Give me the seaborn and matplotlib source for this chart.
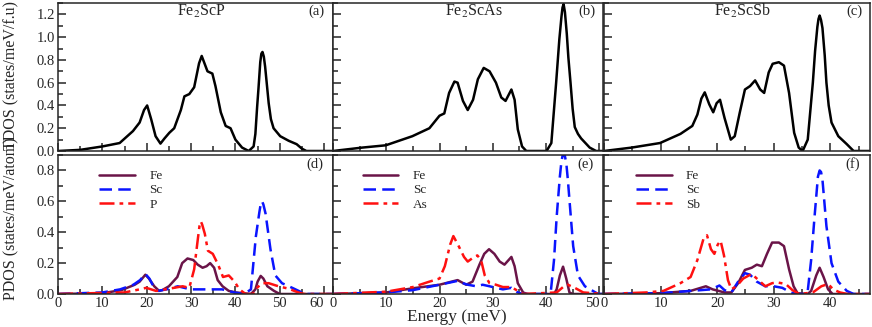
import numpy as np
import pandas as pd
import matplotlib
matplotlib.use("Agg")
import matplotlib.pyplot as plt
import seaborn as sns
from matplotlib.ticker import MultipleLocator

# ---- TDOS (top row) ----
e_tdos_p = [0, 5, 10, 13.9, 16.9, 18.4, 19.4, 20.1, 21.0, 22.0, 23.1, 24.0, 25.1, 26.2, 27.7, 28.5,
            29.6, 30.7, 31.8, 32.4, 33.7, 34.8, 35.5, 36.7, 37.8, 38.9, 40, 41.5, 43, 44.1, 44.5,
            44.9, 45.2, 45.6, 45.85, 46.1, 46.4, 46.7, 47.1, 47.5, 48.0, 48.6, 50.1, 52, 53.8, 55, 56, 62]
tdos_p = [0, 0.01, 0.04, 0.07, 0.175, 0.25, 0.36, 0.40, 0.28, 0.13, 0.065, 0.11, 0.16, 0.20, 0.36, 0.48,
          0.50, 0.56, 0.77, 0.835, 0.70, 0.68, 0.57, 0.34, 0.22, 0.20, 0.10, 0.03, 0.0, 0.04, 0.15,
          0.39, 0.55, 0.78, 0.855, 0.87, 0.83, 0.74, 0.58, 0.42, 0.28, 0.20, 0.13, 0.09, 0.06, 0.02, 0.0, 0.0]

e_tdos_as = [0, 5.5, 9.9, 14.9, 18.1, 20.0, 20.9, 21.8, 22.8, 23.4, 24.4, 25.3, 26.3, 27.2, 28.3,
             29.4, 30.6, 31.6, 32.4, 33.5, 34.1, 34.7, 35.5, 36.3, 40.1, 41.0, 41.9, 42.5, 42.9, 43.1,
             43.3, 43.55, 43.9, 44.2, 44.6, 45.0, 45.4, 46.0, 46.6, 48.2, 49.4, 51]
tdos_as = [0, 0.03, 0.05, 0.13, 0.20, 0.31, 0.33, 0.51, 0.61, 0.60, 0.44, 0.36, 0.45, 0.63, 0.73,
           0.70, 0.60, 0.47, 0.44, 0.54, 0.45, 0.19, 0.04, 0, 0, 0.07, 0.60, 0.98, 1.18, 1.26,
           1.29, 1.22, 1.03, 0.82, 0.60, 0.37, 0.21, 0.15, 0.11, 0.03, 0, 0]

e_tdos_sb = [0, 4.9, 9.9, 13.5, 15.6, 16.5, 17.2, 17.8, 18.6, 19.3, 19.9, 20.5, 21.3, 22.4, 23.1,
             24.0, 24.9, 25.8, 26.7, 27.6, 28.3, 29.1, 29.8, 30.9, 31.8, 32.7, 33.6, 34.4, 35.1,
             36.0, 36.9, 37.3, 37.7, 37.9, 38.1, 38.35, 38.6, 39.0, 39.3, 39.7, 40.2, 41.4, 42.9, 44.1, 47]
tdos_sb = [0, 0.03, 0.07, 0.15, 0.22, 0.32, 0.46, 0.515, 0.41, 0.34, 0.42, 0.45, 0.29, 0.10, 0.13,
           0.34, 0.54, 0.57, 0.62, 0.54, 0.51, 0.69, 0.766, 0.78, 0.75, 0.51, 0.16, 0.03, 0,
           0.10, 0.60, 0.88, 1.09, 1.16, 1.19, 1.15, 1.08, 0.84, 0.60, 0.40, 0.25, 0.13, 0.06, 0, 0]

# ---- PDOS Fe2ScP ----
e_fe_p = [0, 10, 14.3, 17.3, 18.4, 19.7, 20.5, 21.7, 22.8, 23.5, 25.0, 26.9, 28.0, 29.2, 30.5, 31.5,
          32.6, 33.5, 34.3, 35.2, 36.0, 37.1, 38.5, 40.1, 43.5, 44.5, 45.0, 45.7, 46.3, 47.2, 48.7, 50, 62]
fe_p = [0, 0.005, 0.025, 0.06, 0.08, 0.125, 0.10, 0.05, 0.02, 0.025, 0.05, 0.11, 0.20, 0.23, 0.22, 0.19,
        0.17, 0.18, 0.20, 0.17, 0.09, 0.05, 0.02, 0.01, 0.0, 0.03, 0.08, 0.117, 0.10, 0.05, 0.02, 0.0, 0.0]
e_sc_p = [0, 10, 14, 17, 18.5, 19.7, 20.6, 21.5, 22.5, 24.5, 27, 29.9, 33, 37, 39.7, 42, 43.5, 44.6,
          45.4, 45.75, 46.0, 46.3, 46.8, 47.9, 49.0, 50.5, 52.8, 55, 56, 62]
sc_p = [0, 0.01, 0.03, 0.06, 0.09, 0.13, 0.10, 0.05, 0.02, 0.03, 0.05, 0.03, 0.03, 0.03, 0.01, 0, 0.03, 0.37,
        0.53, 0.59, 0.60, 0.58, 0.52, 0.29, 0.12, 0.07, 0.04, 0.01, 0, 0]
e_p_p = [0, 15, 18.4, 19.9, 22.1, 24.2, 28.1, 29.6, 30.7, 31.5, 31.9, 32.2, 32.5, 33.1, 33.8, 34.9, 36.1,
         37.2, 38.5, 39.8, 40.9, 42.3, 44.0, 44.5, 46.0, 47.5, 49.7, 51.9, 54.2, 55.5, 62]
p_p = [0, 0.01, 0.03, 0.04, 0.02, 0.03, 0.05, 0.04, 0.16, 0.35, 0.44, 0.47, 0.45, 0.39, 0.28, 0.26, 0.19,
       0.11, 0.12, 0.08, 0.03, 0, 0, 0.03, 0.07, 0.07, 0.05, 0.035, 0.01, 0, 0]

# ---- PDOS Fe2ScAs ----
e_fe_as = [0, 10, 15, 20, 23.4, 25.0, 26.2, 27.5, 28.4, 29.3, 30.3, 31.3, 32.2, 33.5, 34.1, 34.7,
           35.7, 36.5, 41.5, 42.0, 42.6, 43.2, 43.8, 44.4, 45, 51]
fe_as = [0, 0.01, 0.037, 0.06, 0.09, 0.06, 0.08, 0.19, 0.26, 0.29, 0.26, 0.21, 0.19, 0.24, 0.18, 0.07,
         0.01, 0, 0, 0.03, 0.12, 0.177, 0.10, 0.01, 0, 0]
e_sc_as = [0, 10, 15, 20, 23.4, 24.4, 25.3, 26.9, 28.1, 29.4, 30.6, 31.9, 33.5, 34.7, 35.7, 40.3,
           40.9, 41.5, 42.0, 42.6, 42.9, 43.2, 43.5, 43.8, 44.1, 44.4, 45.1, 46.0, 47.3, 48.8, 49.8, 51]
sc_as = [0, 0.01, 0.025, 0.06, 0.085, 0.07, 0.06, 0.05, 0.06, 0.05, 0.04, 0.03, 0.04, 0.01, 0, 0,
         0.015, 0.22, 0.50, 0.76, 0.86, 0.91, 0.90, 0.85, 0.74, 0.61, 0.31, 0.12, 0.05, 0.02, 0, 0]
e_as_as = [0, 10, 15, 18.1, 20, 21, 22, 22.6, 23.6, 24.6, 25.3, 26.1, 27.1, 27.8, 28.5, 29.4, 30.6,
           31.9, 33.5, 34.7, 35.7, 42, 43.2, 44.1, 45.4, 47, 51]
as_as = [0, 0.015, 0.045, 0.08, 0.10, 0.18, 0.32, 0.375, 0.31, 0.24, 0.21, 0.23, 0.25, 0.22, 0.12, 0.07, 0.06,
         0.045, 0.045, 0.02, 0, 0.01, 0.045, 0.06, 0.04, 0.01, 0]

# ---- PDOS Fe2ScSb ----
e_fe_sb = [0, 9.9, 15.3, 18.0, 19.2, 21.3, 22.5, 23.7, 24.9, 26.1, 27.0, 27.9, 28.8, 29.7, 30.9, 31.8,
           32.7, 33.5, 34.2, 36.0, 36.6, 37.5, 38.1, 38.8, 39.6, 40.4, 47]
fe_sb = [0, 0.005, 0.02, 0.05, 0.03, 0.01, 0.01, 0.07, 0.156, 0.17, 0.19, 0.18, 0.26, 0.333, 0.333, 0.31,
         0.16, 0.05, 0.005, 0, 0.02, 0.12, 0.17, 0.11, 0.03, 0, 0]
e_sc_sb = [0, 10, 15.3, 18.9, 20.4, 21.3, 22.5, 23.7, 24.9, 25.8, 27.0, 28.5, 30.0, 31.5, 33.0, 34, 35.5,
           36.0, 36.6, 37.2, 37.8, 38.1, 38.35, 38.6, 39.3, 40.2, 41.4, 42.9, 44.1, 47]
sc_sb = [0, 0.005, 0.02, 0.03, 0.055, 0.025, 0.01, 0.08, 0.135, 0.125, 0.08, 0.05, 0.05, 0.04, 0.01, 0, 0,
         0.02, 0.22, 0.50, 0.76, 0.80, 0.79, 0.74, 0.44, 0.20, 0.08, 0.02, 0, 0]
e_sb_sb = [0, 7.5, 10.5, 13.5, 15.3, 16.5, 17.6, 18.2, 18.9, 19.5, 20.1, 20.6, 21.2, 21.9, 22.5, 23.4,
           24.6, 26.1, 27.0, 28.5, 29.7, 30.6, 32.1, 33.3, 34.5, 36.9, 38.4, 39.6, 40.5, 41.7, 43, 47]
sb_sb = [0, 0.01, 0.02, 0.07, 0.11, 0.22, 0.36, 0.38, 0.29, 0.26, 0.32, 0.345, 0.25, 0.09, 0.03, 0.05,
         0.10, 0.13, 0.10, 0.05, 0.07, 0.075, 0.065, 0.025, 0, 0.01, 0.05, 0.065, 0.03, 0.01, 0, 0]

compounds = [r"Fe$_2$ScP", r"Fe$_2$ScAs", r"Fe$_2$ScSb"]
top_tags = ["(a)", "(b)", "(c)"]
bot_tags = ["(d)", "(e)", "(f)"]
x_max = [62, 50.7, 47]
x_ticks_max = [60, 50, 40]
tdos = [(e_tdos_p, tdos_p), (e_tdos_as, tdos_as), (e_tdos_sb, tdos_sb)]
pdos = [
    [("Fe", e_fe_p, fe_p), ("Sc", e_sc_p, sc_p), ("P", e_p_p, p_p)],
    [("Fe", e_fe_as, fe_as), ("Sc", e_sc_as, sc_as), ("As", e_as_as, as_as)],
    [("Fe", e_fe_sb, fe_sb), ("Sc", e_sc_sb, sc_sb), ("Sb", e_sb_sb, sb_sb)],
]

colores = {"Fe": "#6a1448", "Sc": "#0a14ff"}
estilos = {"Fe": "-", "Sc": (0, (5, 2.5))}

sns.set_style("ticks")
plt.rcParams["font.family"] = ["Liberation Serif", "DejaVu Serif"]
plt.rcParams["mathtext.fontset"] = "stix"

W, H = 872, 327
fig = plt.figure(figsize=(W / 100, H / 100), dpi=100)

# columnas de cada panel en pixeles
cols = [(58, 333), (333, 603), (604, 870)]
top_px = (3, 151)
bot_px = (155, 294)
leg_x = [0.13, 0.09, 0.10]


def px_axes(x0, x1, y0, y1):
    return fig.add_axes([x0 / W, 1 - y1 / H, (x1 - x0) / W, (y1 - y0) / H])


def estilo_ejes(ax, xmax, ymax, ymajor, show_y, show_x, xtmax, last_right):
    ax.set_xlim(0, xmax)
    ax.set_ylim(0, ymax)
    ax.xaxis.set_major_locator(MultipleLocator(10))
    ax.xaxis.set_minor_locator(MultipleLocator(5))
    ax.yaxis.set_major_locator(MultipleLocator(ymajor))
    ax.yaxis.set_minor_locator(MultipleLocator(ymajor / 2))
    ax.tick_params(which="both", direction="in", top=False, right=False, labelsize=10.5, width=1.1, pad=2)
    ax.tick_params(which="major", length=6)
    ax.tick_params(which="minor", length=3.5)
    if not show_y:
        ax.tick_params(labelleft=False)
    if not show_x:
        ax.tick_params(labelbottom=False)
    else:
        ax.set_xticks(np.arange(0, xtmax + 1, 10))
        ax.set_xlim(0, xmax)
        if last_right:
            ax.get_xticklabels()[-1].set_horizontalalignment("right")
    for s in ax.spines.values():
        s.set_linewidth(1.1)
    ax.set_xlabel("")
    ax.set_ylabel("")


for i in range(3):
    x0, x1 = cols[i]
    ax = px_axes(x0, x1, *top_px)
    e, v = tdos[i]
    sns.lineplot(x=e, y=v, ax=ax, color="black", lw=1.8)
    estilo_ejes(ax, x_max[i], 1.3, 0.2, i == 0, False, x_ticks_max[i], False)
    ax.text(0.52, 0.945, compounds[i], transform=ax.transAxes, ha="center", va="center", fontsize=11.5)
    ax.text(0.94, 0.945, top_tags[i], transform=ax.transAxes, ha="center", va="center", fontsize=10.5)

    axb = px_axes(x0, x1, *bot_px)
    for nombre, e, v in pdos[i]:
        color = colores.get(nombre, "#ff1010")
        ls = estilos.get(nombre, (0, (6, 2, 1.5, 2)))
        sns.lineplot(x=e, y=v, ax=axb, color=color, lw=1.8, linestyle=ls, label=nombre)
    estilo_ejes(axb, x_max[i], 0.9, 0.2, i == 0, True, x_ticks_max[i], i < 2)
    axb.text(0.935, 0.935, bot_tags[i], transform=axb.transAxes, ha="center", va="center", fontsize=10.5)
    axb.legend(loc="upper left", bbox_to_anchor=(leg_x[i], 0.93), frameon=False, fontsize=9.5,
               handlelength=2.7, handletextpad=1.1, labelspacing=0.15, borderaxespad=0)

fig.text(11 / W, 1 - 75 / H, "TDOS (states/meV/f.u)", rotation=90, ha="center", va="center", fontsize=11.5)
fig.text(11 / W, 1 - 219 / H, "PDOS (states/meV/atom)", rotation=90, ha="center", va="center", fontsize=11.5)
fig.text(457 / W, 2 / H, "Energy (meV)", ha="center", va="bottom", fontsize=12.5)

fig.savefig("out.png", dpi=100)
